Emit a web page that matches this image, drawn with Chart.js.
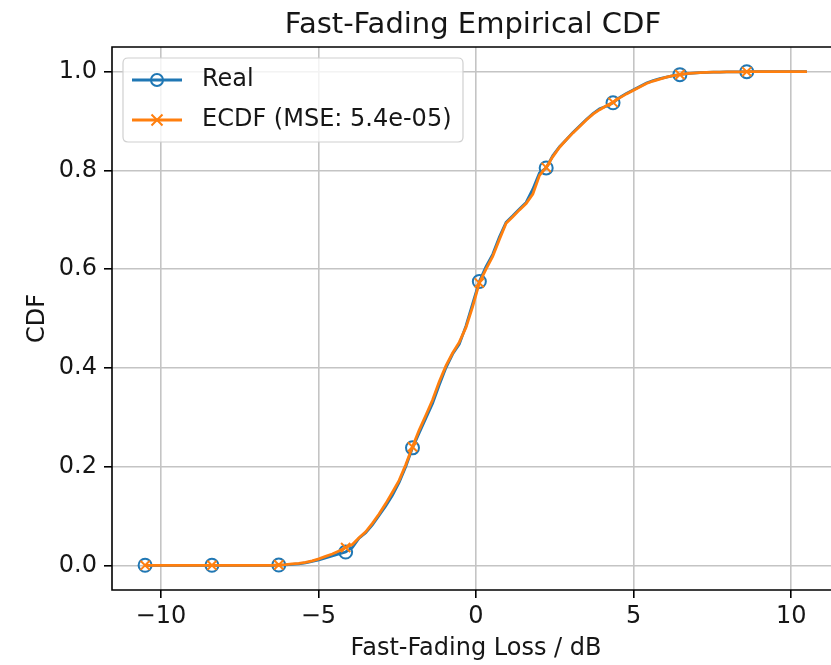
<!DOCTYPE html>
<html>
<head>
<meta charset="utf-8">
<script src="https://cdn.jsdelivr.net/npm/chart.js@4.4.1/dist/chart.umd.min.js"></script>
<style>
  html, body { margin: 0; padding: 0; background: #ffffff; overflow: hidden; }
  #wrap { width: 850px; height: 665px; }
</style>
</head>
<body>
<div id="wrap"><canvas id="c" width="850" height="665"></canvas></div>
<script>
// ---- data ----
const chartTitle = 'Fast-Fading Empirical CDF';
const xAxisLabel = 'Fast-Fading Loss / dB';
const yAxisLabel = 'CDF';
const seriesNames = ['Real', 'ECDF (MSE: 5.4e-05)'];

const lossDb = [
  -10.5, -10.288, -10.076, -9.864, -9.652, -9.439, -9.227, -9.015, -8.803, -8.591,
  -8.379, -8.167, -7.955, -7.742, -7.530, -7.318, -7.106, -6.894, -6.682, -6.470,
  -6.258, -6.045, -5.833, -5.621, -5.409, -5.197, -4.985, -4.773, -4.561, -4.348,
  -4.136, -3.924, -3.712, -3.500, -3.288, -3.076, -2.864, -2.652, -2.439, -2.227,
  -2.015, -1.803, -1.591, -1.379, -1.167, -0.955, -0.742, -0.530, -0.318, -0.106,
  0.106, 0.318, 0.530, 0.742, 0.955, 1.167, 1.379, 1.591, 1.803, 2.015,
  2.227, 2.439, 2.652, 2.864, 3.076, 3.288, 3.500, 3.712, 3.924, 4.136,
  4.348, 4.561, 4.773, 4.985, 5.197, 5.409, 5.621, 5.833, 6.045, 6.258,
  6.470, 6.682, 6.894, 7.106, 7.318, 7.530, 7.742, 7.955, 8.167, 8.379,
  8.591, 8.803, 9.015, 9.227, 9.439, 9.652, 9.864, 10.076, 10.288, 10.5
];

const realCdf = [
  0, 0, 0, 0, 0, 0, 0, 0, 0, 0,
  0, 0, 0, 0, 0, 0, 0, 0, 0, 0,
  0.0005, 0.001, 0.002, 0.003, 0.005, 0.008, 0.011, 0.015, 0.019, 0.023,
  0.027, 0.036, 0.055, 0.066, 0.082, 0.101, 0.120, 0.142, 0.168, 0.200,
  0.238, 0.268, 0.298, 0.328, 0.365, 0.400, 0.428, 0.448, 0.485, 0.530,
  0.575, 0.605, 0.630, 0.665, 0.695, 0.708, 0.722, 0.735, 0.762, 0.795,
  0.805, 0.830, 0.848, 0.862, 0.877, 0.890, 0.903, 0.915, 0.925, 0.930,
  0.937, 0.948, 0.956, 0.963, 0.970, 0.977, 0.982, 0.986, 0.989, 0.992,
  0.994, 0.996, 0.997, 0.998, 0.9985, 0.999, 0.9993, 0.9995, 0.9997, 0.9998,
  1.0, 1.0, 1.0, 1.0, 1.0, 1.0, 1.0, 1.0, 1.0, 1.0
];

const ecdfCdf = [
  0, 0, 0, 0, 0, 0, 0, 0, 0, 0,
  0, 0, 0, 0, 0, 0, 0, 0, 0, 0,
  0.001, 0.0015, 0.003, 0.004, 0.006, 0.009, 0.013, 0.018, 0.023, 0.029,
  0.036, 0.042, 0.056, 0.068, 0.085, 0.104, 0.125, 0.148, 0.172, 0.204,
  0.240, 0.274, 0.304, 0.335, 0.372, 0.404, 0.430, 0.452, 0.482, 0.524,
  0.572, 0.600, 0.626, 0.660, 0.693, 0.706, 0.720, 0.733, 0.752, 0.790,
  0.806, 0.828, 0.847, 0.862, 0.876, 0.889, 0.902, 0.914, 0.923, 0.931,
  0.938, 0.947, 0.955, 0.962, 0.969, 0.976, 0.981, 0.985, 0.989, 0.992,
  0.994, 0.996, 0.997, 0.998, 0.9985, 0.999, 0.9993, 0.9995, 0.9997, 0.9998,
  1.0, 1.0, 1.0, 1.0, 1.0, 1.0, 1.0, 1.0, 1.0, 1.0
];

const xTicks = [-10, -5, 0, 5, 10];
const yTicks = [0.0, 0.2, 0.4, 0.6, 0.8, 1.0];
const xRange = [-11.55, 11.55];
const yRange = [-0.05, 1.05];
const markEvery = 10;

// ---- styles ----
const BLUE = '#1f77b4';
const ORANGE = '#ff7f0e';
const FONT = "'DejaVu Sans', sans-serif";
const TEXT = '#161616';
const GRID = '#c4c4c4';

function toPoints(ys) { return lossDb.map((x, i) => ({ x: x, y: ys[i] })); }
function markerRadii(n, r) { return Array.from({ length: n }, (_, i) => (i % markEvery === 0 ? r : 0)); }
function fmtMinus(v, digits) {
  const s = digits ? Math.abs(v).toFixed(digits) : String(Math.abs(v));
  return (v < 0 ? '\u2212' : '') + s;
}

const framePlugin = {
  id: 'frameAndExtras',
  afterDatasetsDraw(chart) {
    const { ctx, chartArea: a } = chart;
    ctx.save();
    ctx.strokeStyle = '#000';
    ctx.lineWidth = 1.6;
    ctx.beginPath();
    ctx.moveTo(a.right + 2, a.bottom);
    ctx.lineTo(a.left, a.bottom);
    ctx.lineTo(a.left, a.top);
    ctx.lineTo(a.right + 2, a.top);
    ctx.stroke();
    ctx.restore();
  },
  afterDraw(chart) {
    const { ctx, chartArea: a } = chart;
    ctx.save();
    // title
    ctx.fillStyle = TEXT;
    ctx.font = "29px " + FONT;
    ctx.textAlign = 'center';
    ctx.textBaseline = 'alphabetic';
    ctx.fillText(chartTitle, (a.left + a.right) / 2 - 3, 33);

    // legend
    const bx = 123, by = 58, bw = 340, bh = 84, r = 5;
    ctx.fillStyle = 'rgba(255,255,255,0.8)';
    ctx.strokeStyle = '#d0d0d0';
    ctx.lineWidth = 1.2;
    ctx.beginPath();
    ctx.moveTo(bx + r, by);
    ctx.lineTo(bx + bw - r, by);
    ctx.quadraticCurveTo(bx + bw, by, bx + bw, by + r);
    ctx.lineTo(bx + bw, by + bh - r);
    ctx.quadraticCurveTo(bx + bw, by + bh, bx + bw - r, by + bh);
    ctx.lineTo(bx + r, by + bh);
    ctx.quadraticCurveTo(bx, by + bh, bx, by + bh - r);
    ctx.lineTo(bx, by + r);
    ctx.quadraticCurveTo(bx, by, bx + r, by);
    ctx.closePath();
    ctx.fill();
    ctx.stroke();

    const rows = [
      { y: 80, color: BLUE, marker: 'circle', text: seriesNames[0] },
      { y: 120, color: ORANGE, marker: 'x', text: seriesNames[1] }
    ];
    rows.forEach(row => {
      ctx.strokeStyle = row.color;
      ctx.lineWidth = 2.8;
      ctx.beginPath();
      ctx.moveTo(132, row.y);
      ctx.lineTo(182, row.y);
      ctx.stroke();
      ctx.lineWidth = 2;
      if (row.marker === 'circle') {
        ctx.beginPath();
        ctx.arc(157, row.y, 6, 0, Math.PI * 2);
        ctx.stroke();
      } else {
        const s = 5.5;
        ctx.beginPath();
        ctx.moveTo(157 - s, row.y - s); ctx.lineTo(157 + s, row.y + s);
        ctx.moveTo(157 - s, row.y + s); ctx.lineTo(157 + s, row.y - s);
        ctx.stroke();
      }
      ctx.fillStyle = TEXT;
      ctx.font = "24px " + FONT;
      ctx.textAlign = 'left';
      ctx.textBaseline = 'middle';
      ctx.fillText(row.text, 202, row.y);
    });
    ctx.restore();
  }
};

new Chart(document.getElementById('c'), {
  type: 'line',
  data: {
    datasets: [
      {
        label: seriesNames[0],
        data: toPoints(realCdf),
        borderColor: BLUE,
        backgroundColor: BLUE,
        borderWidth: 2.8,
        pointStyle: 'circle',
        pointRadius: markerRadii(realCdf.length, 6.5),
        pointBackgroundColor: 'rgba(0,0,0,0)',
        pointBorderColor: BLUE,
        pointBorderWidth: 2,
        tension: 0,
        fill: false,
        order: 1
      },
      {
        label: seriesNames[1],
        data: toPoints(ecdfCdf),
        borderColor: ORANGE,
        backgroundColor: ORANGE,
        borderWidth: 2.8,
        pointStyle: 'crossRot',
        pointRadius: markerRadii(ecdfCdf.length, 6.5),
        pointBorderColor: ORANGE,
        pointBorderWidth: 2,
        tension: 0,
        fill: false,
        order: 0
      }
    ]
  },
  options: {
    responsive: false,
    animation: false,
    devicePixelRatio: 1,
    layout: { padding: { top: 47, left: 0, right: 10, bottom: 0 } },
    plugins: {
      legend: { display: false },
      title: { display: false },
      tooltip: { enabled: false }
    },
    scales: {
      x: {
        type: 'linear',
        min: xRange[0],
        max: xRange[1],
        afterBuildTicks(scale) { scale.ticks = xTicks.map(v => ({ value: v })); },
        afterFit(scale) { scale.height = 75; },
        ticks: {
          color: TEXT,
          font: { family: FONT, size: 24 },
          padding: 4,
          maxRotation: 0,
          callback: v => fmtMinus(v, 0)
        },
        grid: { color: GRID, lineWidth: 1.6, tickColor: '#000', tickLength: 8, tickWidth: 1.6 },
        border: { display: false },
        title: {
          display: true,
          text: xAxisLabel,
          color: TEXT,
          font: { family: FONT, size: 24 },
          padding: { top: 0, bottom: 2 }
        }
      },
      y: {
        type: 'linear',
        min: yRange[0],
        max: yRange[1],
        afterBuildTicks(scale) { scale.ticks = yTicks.map(v => ({ value: v })); },
        afterFit(scale) { scale.width = 112; },
        ticks: {
          color: TEXT,
          font: { family: FONT, size: 24 },
          padding: 7,
          callback: v => fmtMinus(v, 1)
        },
        grid: { color: GRID, lineWidth: 1.6, tickColor: '#000', tickLength: 8, tickWidth: 1.6 },
        border: { display: false },
        title: {
          display: true,
          text: yAxisLabel,
          color: TEXT,
          font: { family: FONT, size: 24 },
          padding: { top: 23, bottom: 0 }
        }
      }
    }
  },
  plugins: [framePlugin]
});
</script>
</body>
</html>
